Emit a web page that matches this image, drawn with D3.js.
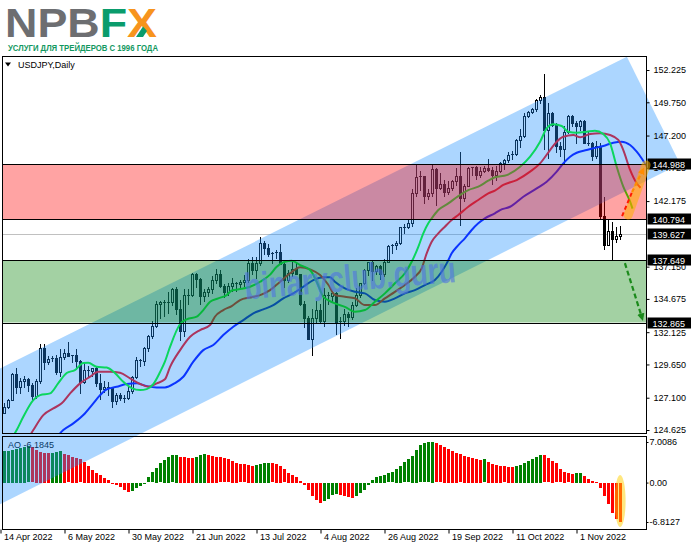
<!DOCTYPE html>
<html><head><meta charset="utf-8">
<script src="https://cdn.jsdelivr.net/npm/d3@7"></script>
<style>
body{margin:0;background:#fff;}
svg{display:block;}
text{font-family:"Liberation Sans",Arial,sans-serif;}
</style></head><body>
<svg id="c" width="691" height="549"></svg>
<script>
// ---------- DATA ----------
const open=[125.4,125.9,126.4,126.95,128.9,127.9,128.4,128.5,128.1,127.2,128.4,130.9,129.8,130.1,130.15,129.1,130.2,130.55,130.3,130.4,129.9,128.3,129.2,129.15,129.4,128.2,127.8,127.9,127.9,126.85,127.3,127.1,127.1,127.6,128.7,130.0,129.9,130.9,131.8,132.6,134.25,134.4,134.4,134.4,135.4,133.9,132.2,135.0,135.0,136.6,136.2,134.9,135.2,135.4,136.1,136.6,135.7,135.2,135.7,135.9,135.85,136.0,136.1,137.4,136.9,137.4,138.95,138.55,138.15,138.2,138.25,137.35,136.1,136.7,136.95,136.6,134.25,133.2,131.6,133.2,133.8,133.0,135.0,134.9,135.1,132.9,133.0,133.5,133.3,134.2,135.0,135.9,136.9,137.5,136.8,137.2,136.6,137.5,138.7,138.8,138.95,140.2,140.15,140.5,142.8,144.0,144.1,142.6,142.8,144.6,143.2,143.5,142.9,143.2,143.7,144.1,142.4,143.35,144.7,144.75,144.15,144.5,144.7,144.55,144.2,144.5,145.1,145.3,145.7,145.75,146.85,147.2,148.7,149.0,149.2,149.9,150.15,147.6,148.9,148.0,146.4,146.2,147.5,148.7,148.2,147.9,148.3,146.6,146.65,145.6,146.4,141.0,138.8,139.9,139.3,139.5];
const high=[126.1,126.7,127.0,129.0,129.4,128.6,128.8,128.6,128.2,128.5,131.2,131.25,130.3,130.3,130.4,130.8,130.8,131.35,130.4,130.8,130.0,129.8,129.5,129.4,129.5,128.9,128.4,128.3,127.9,127.5,127.5,127.3,127.9,128.8,130.2,130.1,131.0,131.9,133.0,134.5,134.5,134.6,135.2,135.5,135.6,134.6,135.4,135.4,136.7,136.7,136.3,135.4,135.6,136.4,137.0,136.9,135.8,135.9,136.3,136.0,136.1,136.5,137.7,137.9,137.9,139.4,139.1,138.9,138.3,138.4,138.9,137.5,136.9,137.5,137.5,136.6,134.5,133.4,133.9,134.5,134.3,135.5,135.2,135.3,135.2,133.3,133.9,133.7,134.4,135.5,135.9,137.0,137.5,137.6,137.3,137.3,137.7,138.8,138.9,139.1,140.2,140.4,140.8,143.1,144.99,144.5,144.1,143.1,144.95,144.7,144.3,143.8,143.7,143.8,144.7,145.9,143.5,144.8,144.8,144.9,144.8,144.9,145.4,144.8,144.9,145.2,145.4,145.9,146.0,146.9,147.7,148.9,149.1,149.3,150.0,150.3,151.95,149.7,149.0,148.2,146.7,147.9,148.8,148.8,148.3,148.4,148.4,147.5,146.7,146.8,146.6,142.5,140.8,140.6,140.2,140.3];
const low=[125.0,125.9,126.3,126.9,127.5,127.5,127.9,127.6,126.95,127.1,128.2,129.3,129.7,129.9,128.9,128.8,130.1,130.3,129.8,129.3,127.5,128.2,128.8,128.8,128.0,127.0,127.55,127.3,126.4,126.6,126.9,126.8,127.0,127.5,128.6,129.5,129.6,130.7,131.7,132.5,133.2,133.4,133.6,134.2,133.5,131.5,131.8,134.3,134.9,135.6,134.3,134.5,134.9,135.1,135.9,135.6,134.8,135.0,135.3,135.3,135.6,135.7,136.0,136.6,136.3,137.3,138.1,138.0,137.4,137.8,137.4,135.6,136.0,136.4,136.6,134.2,132.5,131.6,130.4,132.8,132.9,132.6,134.3,134.5,132.0,131.7,132.7,132.6,133.1,134.1,134.8,135.8,136.5,136.1,136.6,136.2,136.4,137.5,138.2,138.5,138.9,139.7,140.1,140.3,142.6,143.0,142.0,142.3,142.6,141.9,143.1,142.6,142.7,143.0,143.4,140.35,142.2,143.3,144.2,143.9,144.0,144.4,144.5,143.5,143.8,144.4,144.6,145.2,145.4,145.7,146.3,147.1,148.6,148.9,149.1,149.7,146.2,145.5,147.9,145.9,145.6,145.1,147.4,147.9,146.6,147.6,146.6,146.5,145.3,145.5,140.85,138.5,138.8,137.67,139.0,139.3];
const close=[125.9,126.4,126.95,128.9,127.9,128.4,128.5,128.1,127.2,128.4,130.9,129.8,130.1,130.15,129.1,130.2,130.55,130.3,130.4,129.9,128.3,129.2,129.15,129.4,128.2,127.8,127.9,127.9,126.85,127.3,127.1,127.1,127.6,128.7,130.0,129.9,130.9,131.8,132.6,134.25,134.4,134.4,134.4,135.4,133.9,132.2,135.0,135.0,136.6,136.2,134.9,135.2,135.4,136.1,136.6,135.7,135.2,135.7,135.9,135.85,136.0,136.1,137.4,136.9,137.4,138.95,138.55,138.15,138.2,138.25,137.35,136.1,136.7,136.95,136.6,134.25,133.2,131.6,133.2,133.8,133.0,135.0,134.9,135.1,132.9,133.0,133.5,133.3,134.2,135.0,135.9,136.9,137.5,136.8,137.2,136.6,137.5,138.7,138.8,138.95,140.2,140.15,140.5,142.8,144.0,144.1,142.6,142.8,144.6,143.2,143.5,142.9,143.2,143.7,144.1,142.4,143.35,144.7,144.75,144.15,144.5,144.7,144.55,144.2,144.5,145.1,145.3,145.7,145.75,146.85,147.2,148.7,149.0,149.2,149.9,150.15,147.6,148.9,148.0,146.4,146.2,147.5,148.7,148.2,147.9,148.3,146.6,146.65,145.6,146.4,141.0,138.8,139.9,139.3,139.5,139.627];

const ao=[5.40,5.47,5.53,5.64,5.87,6.04,6.22,6.28,6.10,5.64,5.30,5.18,5.12,5.18,5.30,5.47,4.95,4.72,4.49,4.26,4.03,3.57,2.88,2.19,1.73,1.32,0.86,0.46,-0.12,-0.29,-0.69,-1.15,-1.55,-1.44,-0.92,-0.46,-0.12,0.92,1.78,2.59,3.34,3.91,4.43,4.72,4.84,4.49,4.43,4.32,4.26,4.49,4.78,4.95,4.78,4.66,4.49,4.38,4.20,4.03,3.80,3.45,3.17,3.13,3.10,2.94,3.11,3.28,3.40,3.45,3.34,3.22,2.88,2.30,1.73,1.38,1.04,0.35,-0.40,-1.27,-2.30,-3.00,-3.45,-3.17,-2.71,-2.00,-1.93,-2.13,-2.19,-2.42,-2.65,-2.30,-1.73,-1.15,-0.29,0.46,1.04,1.21,1.38,1.61,1.78,2.36,2.88,3.51,4.03,4.61,5.64,6.45,6.78,6.98,7.0086,6.79,6.45,6.16,5.87,5.53,5.18,4.89,4.61,4.43,4.32,4.15,3.91,4.03,3.57,3.28,3.05,2.88,2.78,2.75,2.72,2.88,3.11,3.40,3.80,4.15,4.49,4.78,4.72,4.20,3.80,3.34,2.30,1.84,1.61,1.55,1.67,1.73,1.15,0.69,0.35,0.12,-0.81,-2.30,-3.68,-5.18,-6.20,-6.8127];

// Alligator lines: [bar index, price]
const lips=[[2.5,123.8],[4.05,124.62],[5.7,125.64],[8.2,126.92],[9.9,127.30],[12.4,127.43],[14.45,128.22],[16.55,128.99],[18.6,129.22],[20.7,129.76],[21.95,129.78],[24.05,129.47],[26.55,129.41],[28.6,128.99],[30.7,128.32],[32.8,127.84],[34.9,127.69],[36.55,127.76],[38.2,128.14],[39.9,129.07],[41.1,129.86],[42.4,131.01],[44.9,132.75],[46.55,133.11],[49.05,133.31],[50.7,133.82],[52.4,134.46],[54.45,134.72],[56.55,134.97],[57.8,135.32],[60.3,135.45],[62.4,135.61],[64.9,135.99],[67.4,136.54],[69.05,137.14],[71.1,137.52],[72.8,137.60],[74.9,137.27],[77.4,136.89],[79.05,135.99],[80.7,134.84],[81.9,134.59],[83.6,134.33],[86.1,134.07],[88.6,133.69],[91.1,133.82],[93.6,134.46],[96.1,135.10],[98.6,135.87],[101.1,136.64],[102.8,137.52],[104.45,138.67],[105.7,139.70],[106.95,140.47],[107.8,140.85],[109.45,141.49],[111.95,142.00],[114.45,142.56],[116.95,143.02],[119.45,143.28],[121.95,143.74],[123.6,144.00],[126.55,144.17],[129.9,144.81],[132.4,145.58],[134.9,146.73],[136.55,147.75],[138.2,148.06],[140.3,147.93],[141.95,147.49],[144.05,147.42],[146.55,147.49],[148.6,147.57],[150.7,147.32],[152.4,146.60],[154.05,144.81],[155.7,143.28],[157.4,142.13],[158,141.6]];
const teeth=[[6.8,123.9],[8.2,124.62],[10.7,125.77],[13.2,126.28],[15.3,126.67],[17.4,127.43],[19.9,128.20],[22.4,128.71],[24.45,129.09],[27.4,129.09],[29.9,129.01],[32.4,128.58],[34.9,128.15],[36.95,127.94],[39.05,128.20],[41.1,128.51],[42.4,129.47],[44.9,130.75],[47.4,131.77],[49.9,132.29],[52.4,132.67],[53.6,133.31],[55.7,133.82],[57.8,134.13],[59.9,134.59],[62.4,134.79],[64.9,134.97],[67.4,135.35],[69.9,135.99],[72.4,136.64],[74.9,137.10],[77.4,136.94],[79.9,136.50],[82,135.74],[83.6,134.97],[86.1,134.84],[88.6,134.72],[91.1,134.20],[93.6,134.20],[96.1,134.72],[98.6,135.22],[101.1,135.74],[103.6,136.37],[105.3,137.02],[106.55,138.17],[107.8,139.06],[109.45,139.70],[111.1,140.21],[112.8,140.72],[114.45,141.11],[116.95,141.74],[119.45,142.26],[121.95,142.77],[123.6,142.98],[125.7,143.41],[129.05,143.79],[132.4,144.43],[134.9,145.07],[137.4,146.09],[139.05,146.73],[140.7,147.11],[143.2,147.24],[144.9,147.06],[147.4,147.32],[149.9,147.37],[152.4,147.24],[154.45,146.86],[155.7,146.09],[157.4,144.56],[159.05,143.54],[160,143.2]];
const jaw=[[13.6,123.9],[15.7,124.62],[18.2,125.13],[20.7,125.77],[23.2,126.67],[24.9,127.30],[26.55,127.74],[29.05,127.94],[31.55,128.15],[34.05,128.20],[36.55,127.99],[39.05,127.89],[41.1,127.89],[43.6,128.22],[45.7,128.71],[48.2,129.86],[50.7,130.75],[53.2,131.14],[55.7,131.90],[58.2,132.54],[60.7,133.05],[63.2,133.57],[65.7,133.87],[68.2,134.20],[70.7,134.72],[73.2,135.10],[75.7,135.61],[78.2,136.12],[80.7,136.33],[82.4,136.33],[83.6,135.99],[86.1,135.48],[88.6,135.22],[91.1,135.10],[93.6,134.59],[96.1,134.46],[98.6,134.72],[101.1,135.10],[103.6,135.35],[106.1,135.74],[108.6,136.12],[110.3,136.76],[111.55,137.40],[112.8,138.17],[114.45,138.80],[116.1,139.32],[117.8,139.96],[119.45,140.47],[121.1,140.85],[123.6,141.24],[124.9,141.49],[127.4,141.74],[130.7,142.51],[134.05,143.15],[136.55,143.66],[139.05,144.43],[140.7,145.07],[142.4,145.58],[144.05,145.88],[146.55,146.09],[148.2,146.22],[150.7,146.40],[153.2,146.65],[155.3,146.73],[157.4,146.47],[159.05,145.96],[160.4,145.4],[162,144.6]];

const priceTicks=[152.225,149.750,147.200,144.725,142.175,137.150,134.675,132.125,129.650,127.100,124.625];
const levelMarks=[144.988,140.794,139.627,137.649,132.865];
const bidPrice=139.627;
const redZone=[140.794,144.988];
const greenZone=[132.865,137.649];
const aoTicks=[7.0086,0,-6.8127];
const aoTickText=["7.0086","0.00","-6.8127"];
const dateTickIdx=[0,16,32,48,64,80,96,112,128,144];
const dateTickText=["14 Apr 2022","6 May 2022","30 May 2022","21 Jun 2022","13 Jul 2022","4 Aug 2022","26 Aug 2022","19 Sep 2022","11 Oct 2022","1 Nov 2022"];
const channelCorners=[[-30.1,124.77],[156.6,153.25],[169.9,145.02],[-30.1,114.34]];
const glowSeg=[[156.9,141.1],[161.4,144.94]];
const redDashSeg=[[155.4,141.03],[158.1,143.02]];
const orangeDashSeg=[[157.9,142.87],[160.6,144.56]];
const greenDashSeg=[[156.1,137.42],[160.4,133.21]];
const aoHighlight=[154.9,-3.18];
const watermarkAt=[87.6,135.3];

// ---------- LAYOUT ----------
const W=691,H=549;
const L=2.5,R=646.5,MT=56.5,MB=433.5,AT=436.5,AB=529.5;
const svg=d3.select("#c");
svg.append("rect").attr("width",W).attr("height",H).attr("fill","#fff");

const x=d3.scaleLinear().domain([0,155]).range([0.5,620.5]);
const y=d3.scaleLinear().domain([124.625,152.225]).range([430,70]);
const ya=d3.scaleLinear().domain([-6.8127,7.0086]).range([522,442]);
const snap=v=>Math.round(v)+0.5;

const defs=svg.append("defs");
defs.append("clipPath").attr("id","cpMain").append("rect").attr("x",L).attr("y",MT).attr("width",R-L).attr("height",MB-MT);
defs.append("clipPath").attr("id","cpAO").append("rect").attr("x",L).attr("y",AT).attr("width",R-L).attr("height",AB-AT);
defs.append("marker").attr("id","mOr").attr("viewBox","0 0 10 10").attr("refX",6).attr("refY",5)
  .attr("markerWidth",3.2).attr("markerHeight",3.2).attr("orient","auto").attr("markerUnits","strokeWidth")
  .append("path").attr("d","M0,0L10,5L0,10Z").attr("fill","#ff8c00");
defs.append("marker").attr("id","mGr").attr("viewBox","0 0 10 10").attr("refX",6).attr("refY",5)
  .attr("markerWidth",3.4).attr("markerHeight",3.4).attr("orient","auto").attr("markerUnits","strokeWidth")
  .append("path").attr("d","M0,0L10,5L0,10Z").attr("fill","#1b8a1b");

// ---------- LOGO ----------
const logoFont="DejaVu Sans";
const logo=svg.append("text").attr("x",5).attr("y",37).attr("font-family",logoFont).attr("font-weight","bold")
  .attr("font-size",40).attr("textLength",152).attr("lengthAdjust","spacingAndGlyphs");
logo.append("tspan").text("NPB").attr("fill","#6d6e71");
logo.append("tspan").text("F").attr("fill","#0a9c6c");
logo.append("tspan").text("X").attr("fill","#f7941d");
// green lower-left leg of the X
svg.append("path").attr("d","M136,37L143,26.5L147,31L143,37Z").attr("fill","#0a9c6c");
svg.append("text").attr("x",8).attr("y",50.5).text("УСЛУГИ ДЛЯ ТРЕЙДЕРОВ С 1996 ГОДА").attr("font-family",logoFont)
  .attr("font-weight","bold").attr("font-size",9.5).attr("fill","#12985f").attr("textLength",150).attr("lengthAdjust","spacingAndGlyphs");

// ---------- MAIN PANEL ----------
const gMain=svg.append("g").attr("clip-path","url(#cpMain)");
gMain.append("line").attr("x1",L).attr("x2",R).attr("y1",snap(y(bidPrice))).attr("y2",snap(y(bidPrice)))
  .attr("stroke","#c0c0c0").attr("stroke-width",1);

const idx=d3.range(close.length);
gMain.selectAll(".wick").data(idx).join("line").attr("class","wick")
  .attr("x1",i=>x(i)).attr("x2",i=>x(i))
  .attr("y1",i=>Math.round(y(high[i]))).attr("y2",i=>Math.round(y(low[i]))+1)
  .attr("stroke","#000").attr("stroke-width",1);
idx.forEach(i=>{
  const o=open[i],c=close[i];
  const top=Math.round(y(Math.max(o,c))), bot=Math.round(y(Math.min(o,c)));
  if(bot-top<2){
    gMain.append("rect").attr("x",x(i)-1.5).attr("y",top).attr("width",3).attr("height",Math.max(1,bot-top)).attr("fill","#000");
  } else if(c>=o){
    gMain.append("rect").attr("x",x(i)-1.5).attr("y",top).attr("width",3).attr("height",bot-top+1).attr("fill","#000");
    gMain.append("rect").attr("x",x(i)-0.5).attr("y",top+1).attr("width",1).attr("height",bot-top-1).attr("fill","#fff");
  } else {
    gMain.append("rect").attr("x",x(i)-1.5).attr("y",top).attr("width",3).attr("height",bot-top+1).attr("fill","#000");
  }
});

const ln=d3.line().x(d=>x(d[0])).y(d=>y(d[1])).curve(d3.curveMonotoneX);
[[jaw,"#0000ff"],[teeth,"#ff0000"],[lips,"#00ff00"]].forEach(([pts,col])=>{
  gMain.append("path").attr("d",ln(pts)).attr("fill","none").attr("stroke",col).attr("stroke-width",2);
});

// ---------- AO PANEL ----------
const gAO=svg.append("g").attr("clip-path","url(#cpAO)");
gAO.selectAll(".aob").data(idx).join("rect").attr("class","aob")
  .attr("x",i=>x(i)-1.5).attr("width",3)
  .attr("y",i=>Math.round(Math.min(ya(ao[i]),ya(0))))
  .attr("height",i=>Math.max(1,Math.round(Math.abs(ya(ao[i])-ya(0)))))
  .attr("fill",i=>(i===0||ao[i]>ao[i-1])?"#008000":"#ff0000");
svg.append("text").attr("x",8).attr("y",447.5).text("AO -6.1845").attr("font-size",9).attr("fill","#000");

// ---------- OVERLAYS ----------
svg.append("polygon").attr("points",channelCorners.map(d=>[x(d[0]),y(d[1])].join(",")).join(" "))
  .attr("fill","#1e90ff").attr("fill-opacity",0.37);
const gZ=svg.append("g").attr("clip-path","url(#cpMain)");
gZ.append("rect").attr("x",L).attr("width",R-L).attr("y",y(redZone[1])).attr("height",y(redZone[0])-y(redZone[1]))
  .attr("fill","#ff0000").attr("fill-opacity",0.36);
gZ.append("rect").attr("x",L).attr("width",R-L).attr("y",y(greenZone[1])).attr("height",y(greenZone[0])-y(greenZone[1]))
  .attr("fill","#008000").attr("fill-opacity",0.36);
[redZone[0],redZone[1],greenZone[0],greenZone[1]].forEach(v=>{
  gZ.append("line").attr("x1",L).attr("x2",R).attr("y1",snap(y(v))).attr("y2",snap(y(v))).attr("stroke","#000");
});

// ---------- FRAMES ----------
svg.append("rect").attr("x",L).attr("y",MT).attr("width",R-L).attr("height",MB-MT).attr("fill","none").attr("stroke","#000");
svg.append("rect").attr("x",L).attr("y",AT).attr("width",R-L).attr("height",AB-AT).attr("fill","none").attr("stroke","#000");

// header
svg.append("path").attr("d","M5,62.5L11,62.5L8,66.5Z").attr("fill","#000");
svg.append("text").attr("x",18).attr("y",68).text("USDJPY,Daily").attr("font-size",9).attr("fill","#000");

// ---------- AXES ----------
const ax=svg.append("g").attr("transform",`translate(${R},0)`)
  .call(d3.axisRight(y).tickValues(priceTicks).tickFormat(d3.format(".3f")).tickSize(3).tickPadding(4));
ax.select(".domain").remove();
ax.selectAll("text").attr("font-size",9).attr("font-family","Liberation Sans").attr("fill","#000");
ax.selectAll("line").attr("stroke","#000");

const gl=svg.append("g");
levelMarks.forEach(v=>{
  gl.append("rect").attr("x",R+1).attr("y",Math.round(y(v))-5.5).attr("width",44).attr("height",11).attr("fill","#000");
  gl.append("text").attr("x",R+6).attr("y",Math.round(y(v))+3.5).text(d3.format(".3f")(v))
    .attr("font-size",9).attr("fill","#fff");
});

const aax=svg.append("g").attr("transform",`translate(${R},0)`)
  .call(d3.axisRight(ya).tickValues(aoTicks).tickFormat((d,i)=>aoTickText[i]).tickSize(2).tickPadding(1));
aax.select(".domain").remove();
aax.selectAll("text").attr("font-size",9).attr("font-family","Liberation Sans").attr("fill","#000");
aax.selectAll("line").attr("stroke","#000");

const dax=svg.append("g").attr("transform",`translate(0,${AB})`)
  .call(d3.axisBottom(x).tickValues(dateTickIdx).tickFormat((d,i)=>dateTickText[i]).tickSize(4));
dax.select(".domain").remove();
dax.selectAll("text").attr("font-size",9).attr("font-family","Liberation Sans").attr("fill","#000")
  .attr("text-anchor","start").attr("x",3).attr("y",4);
dax.selectAll("line").attr("stroke","#000");

// ---------- ANNOTATIONS ----------
svg.append("text").attr("transform",`translate(${x(watermarkAt[0])},${y(watermarkAt[1])}) rotate(-4.7)`)
  .attr("text-anchor","middle").text("binaryclub.guru").attr("font-family","DejaVu Sans").attr("font-weight","bold")
  .attr("font-size",37).attr("fill","#4f74e3").attr("fill-opacity",0.62).attr("textLength",212).attr("lengthAdjust","spacingAndGlyphs");

const seg=s=>({x1:x(s[0][0]),y1:y(s[0][1]),x2:x(s[1][0]),y2:y(s[1][1])});
function drawSeg(s,attrs){const g=seg(s);const l=svg.append("line").attr("x1",g.x1).attr("y1",g.y1).attr("x2",g.x2).attr("y2",g.y2);
  Object.entries(attrs).forEach(([k,v])=>l.attr(k,v));return l;}
drawSeg(glowSeg,{"stroke":"#ffb000","stroke-opacity":0.55,"stroke-width":9,"stroke-linecap":"round"});
drawSeg(redDashSeg,{"stroke":"#ff1a00","stroke-width":2,"stroke-dasharray":"4,3"});
drawSeg(orangeDashSeg,{"stroke":"#ff8c00","stroke-width":2.2,"stroke-dasharray":"4,3","marker-end":"url(#mOr)"});
drawSeg(greenDashSeg,{"stroke":"#1b8a1b","stroke-width":2.2,"stroke-dasharray":"5,3","marker-end":"url(#mGr)"});

svg.append("ellipse").attr("cx",x(aoHighlight[0])).attr("cy",ya(aoHighlight[1])).attr("rx",5.5).attr("ry",26)
  .attr("fill","#ffd000").attr("fill-opacity",0.5);
</script>
</body></html>
